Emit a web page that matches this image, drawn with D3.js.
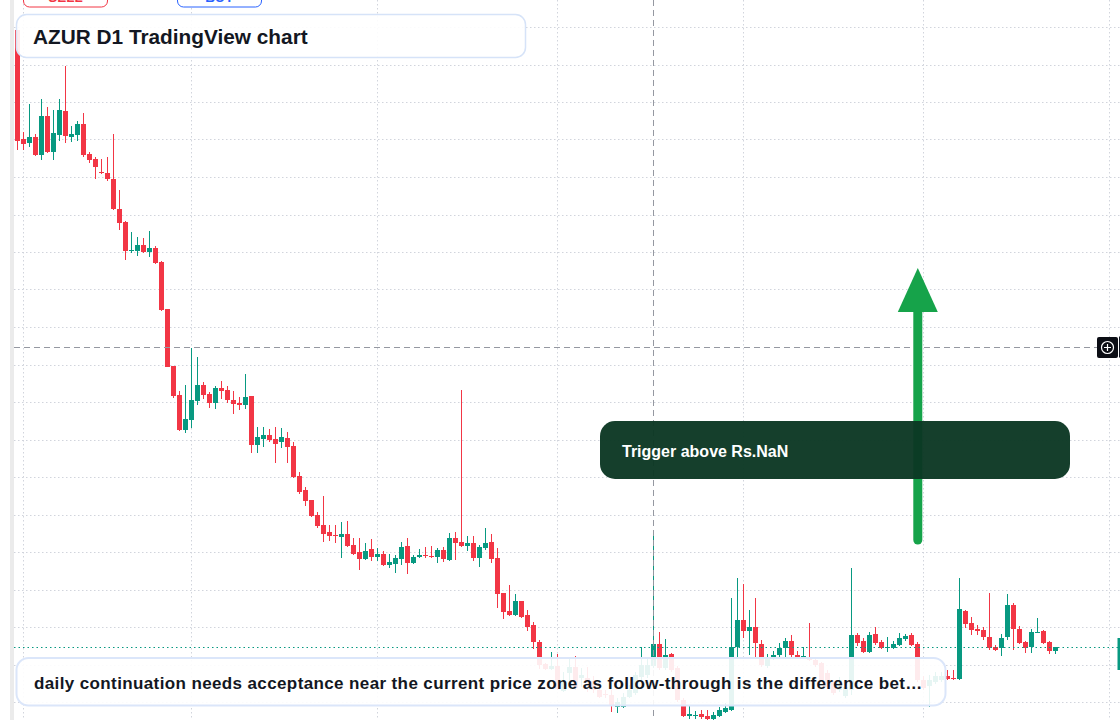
<!DOCTYPE html>
<html>
<head>
<meta charset="utf-8">
<script src="https://cdn.jsdelivr.net/npm/d3@7"></script>
<style>
html, body { margin:0; padding:0; background:#fff; overflow:hidden; }
#chart { width:1120px; height:720px; }
text { font-family: "Liberation Sans", Arial, Helvetica, sans-serif; }
</style>
</head>
<body>
<div id="chart"></div>
<script>
// daily candles, first bar 2025-01-31
var opens = [
14.94,12.76,12.69,12.80,12.44,13.22,12.51,12.85,13.32,12.81,
12.85,13.06,12.46,12.36,12.10,12.08,11.96,11.36,11.10,10.52,
10.53,10.64,10.51,10.58,10.30,9.36,8.22,7.64,6.94,7.14,
7.52,7.84,7.66,7.48,7.78,7.74,7.54,7.48,7.44,7.62,
6.64,6.76,6.84,6.76,6.70,6.78,6.62,6.02,5.74,5.54,
5.24,5.04,4.90,4.84,4.80,4.86,4.64,4.50,4.36,4.56,
4.40,4.46,4.24,4.26,4.36,4.62,4.28,4.40,4.44,4.43,
4.40,4.54,4.34,4.78,4.70,4.62,4.68,4.38,4.58,4.70,
4.38,3.68,3.32,3.24,3.52,3.24,3.04,2.70,2.26,2.16,
2.22,1.72,2.08,2.20,1.98,1.98,1.92,1.74,1.66,1.64,
1.40,1.40,1.60,1.68,2.00,2.04,2.22,2.66,2.18,2.46,
2.18,1.54,1.22,1.22,1.26,1.22,1.16,1.22,1.30,1.34,
2.60,3.14,2.92,3.00,2.66,2.22,2.40,2.44,2.58,2.72,
2.44,2.40,2.40,2.34,2.28,2.08,1.90,1.74,1.62,1.74,
2.84,2.72,2.50,2.86,2.70,2.58,2.58,2.64,2.76,2.84,
2.66,1.94,1.82,1.90,1.94,2.02,1.98,1.96,3.32,3.08,
2.96,2.94,2.80,2.60,2.58,2.80,3.44,2.96,2.70,2.60,
2.89,2.92,2.70,2.52]
var highs = [
14.94,12.90,13.46,12.86,13.56,13.40,13.34,13.56,14.22,13.02,
13.12,13.28,12.50,12.40,12.36,12.40,12.87,11.74,11.12,10.90,
10.80,10.78,10.92,10.62,10.32,9.36,8.22,7.72,7.84,8.59,
8.41,7.90,7.70,7.82,7.92,7.82,7.72,7.60,8.06,7.62,
7.00,7.00,6.96,7.00,6.98,6.90,6.70,6.10,5.80,5.55,
5.30,5.62,5.04,5.04,5.10,5.12,4.78,4.78,4.68,4.76,
4.58,4.52,4.46,4.44,4.70,4.78,4.44,4.56,4.60,4.62,
4.58,4.60,4.88,4.90,7.74,4.82,4.82,4.64,4.98,4.86,
4.58,3.68,3.84,3.66,3.53,3.34,3.10,2.74,2.28,2.50,
2.46,2.10,2.38,2.42,2.18,2.20,2.02,1.82,1.74,1.74,
1.58,1.68,1.84,2.10,2.60,2.40,4.94,2.90,2.76,2.48,
2.22,1.58,1.42,1.32,1.34,1.34,1.30,1.40,1.48,3.58,
3.98,3.86,3.34,3.58,2.74,2.46,2.52,2.68,2.78,2.84,
2.52,2.60,3.08,2.38,2.30,2.14,1.94,2.00,1.86,4.18,
2.88,2.78,2.90,3.00,2.74,2.80,2.72,2.88,2.86,2.88,
2.70,2.02,2.04,2.10,2.10,2.14,2.14,3.98,3.34,3.20,
3.04,3.00,3.68,2.64,2.86,3.66,3.48,3.02,2.72,2.96,
3.18,2.94,2.72,2.61]
var lows = [
12.54,12.54,12.61,12.43,12.34,12.49,12.34,12.73,12.69,12.71,
12.73,12.41,12.29,11.97,12.06,11.93,11.34,10.94,10.34,10.49,
10.43,10.49,10.41,10.27,9.32,8.20,7.59,6.93,6.89,6.98,
7.44,7.56,7.38,7.36,7.56,7.48,7.26,7.34,7.36,6.48,
6.48,6.60,6.70,6.28,6.58,6.28,5.99,5.66,5.42,5.21,
4.98,4.70,4.72,4.68,4.38,4.61,4.45,4.14,4.35,4.32,
4.32,4.23,4.18,4.08,4.24,4.06,4.26,4.38,4.38,4.38,
4.28,4.30,4.32,4.34,4.61,4.52,4.32,4.20,4.54,4.28,
3.38,3.16,3.22,3.23,3.19,2.92,2.56,2.16,2.14,2.14,
1.74,1.70,1.90,1.74,1.80,1.70,1.68,1.58,1.58,1.30,
1.28,1.38,1.58,1.64,1.94,1.98,2.18,2.14,2.14,2.10,
1.50,1.20,1.16,1.16,1.16,1.14,1.14,1.20,1.28,1.32,
2.40,2.78,2.44,2.40,2.20,2.18,2.34,2.40,2.40,2.40,
2.36,2.36,2.32,2.20,1.90,1.76,1.64,1.70,1.58,1.64,
2.62,2.48,2.48,2.64,2.56,2.50,2.56,2.62,2.72,2.62,
1.90,1.74,1.40,1.86,1.90,1.94,1.94,1.94,2.98,2.84,
2.84,2.74,2.54,2.52,2.42,2.74,2.54,2.67,2.48,2.48,
2.88,2.66,2.46,2.46]
var closes = [
12.72,12.67,12.80,12.44,13.22,12.50,12.88,13.34,12.83,12.86,
13.06,12.44,12.34,12.21,12.09,11.96,11.36,11.09,10.53,10.54,
10.64,10.51,10.58,10.29,9.34,8.21,7.63,6.94,7.16,7.54,
7.84,7.64,7.48,7.78,7.72,7.54,7.46,7.44,7.60,6.64,
6.80,6.84,6.74,6.66,6.80,6.60,6.00,5.70,5.52,5.22,
5.02,4.86,4.82,4.83,4.86,4.62,4.46,4.36,4.52,4.40,
4.46,4.24,4.30,4.38,4.60,4.28,4.40,4.44,4.43,4.42,
4.54,4.36,4.78,4.68,4.62,4.68,4.38,4.60,4.68,4.36,
3.66,3.30,3.24,3.52,3.20,3.00,2.70,2.24,2.16,2.22,
1.76,1.90,2.20,1.78,2.04,1.92,1.74,1.60,1.64,1.42,
1.50,1.60,1.74,2.04,2.24,2.24,2.66,2.18,2.44,2.14,
1.54,1.22,1.26,1.24,1.20,1.16,1.24,1.34,1.38,2.60,
3.14,2.92,3.00,2.68,2.24,2.38,2.44,2.58,2.72,2.44,
2.40,2.42,2.34,2.24,1.94,1.80,1.68,1.94,1.80,2.84,
2.68,2.50,2.84,2.68,2.58,2.61,2.66,2.78,2.82,2.64,
1.94,1.78,1.94,2.02,2.02,1.96,1.97,3.36,3.06,2.94,
2.92,2.80,2.58,2.54,2.78,3.44,2.96,2.68,2.58,2.90,
2.90,2.68,2.52,2.60]

var firstDay = new Date(Date.UTC(2025, 0, 31))
var lastDay = new Date(Date.UTC(2025, 7, 1))
var gridPrices = [1.5, 2.25, 3, 3.75, 4.5, 5.25, 6, 6.75, 7.5, 8.25, 9, 9.75, 10.5, 11.25, 12, 12.75, 13.5, 14.25, 15]

var crosshairDay = new Date(Date.UTC(2025, 4, 17))
var crosshairPrice = 8.61
var arrowDay = new Date(Date.UTC(2025, 5, 30))
var arrowFrom = 4.74
var arrowTo = 10.18

var titleText = "AZUR D1 TradingView chart"
var calloutText = "Trigger above Rs.NaN"
var noteText = "daily continuation needs acceptance near the current price zone as follow-through is the difference bet\u2026"

var upColor = "#089981"
var downColor = "#f23645"

var candles = opens.map(function(o, i) {
	return { date: d3.utcDay.offset(firstDay, i), open: o, high: highs[i], low: lows[i], close: closes[i] }
})

var svg = d3.select("#chart").append("svg").attr("width", 1120).attr("height", 720)

var x = d3.scaleUtc().domain([firstDay, lastDay]).range([17.3, 1109.3])
var y = d3.scaleLinear().domain([1.5, 15]).range([702, 27])

function px(v) { return Math.round(v) + 0.5 }

// left pane border
svg.append("rect").attr("x", 10).attr("y", 0).attr("width", 4).attr("height", 720).attr("fill", "#ebebeb")

// grid
var grid = svg.append("g").attr("stroke", "#d1d4dc").attr("stroke-dasharray", "1.5,2.5")
grid.selectAll("line.h").data(gridPrices).enter().append("line")
	.attr("class", "h")
	.attr("x1", 14).attr("x2", 1120)
	.attr("y1", function(d) { return px(y(d)) })
	.attr("y2", function(d) { return px(y(d)) })
grid.selectAll("line.v").data(x.ticks(d3.utcMonth.every(1))).enter().append("line")
	.attr("class", "v")
	.attr("y1", 0).attr("y2", 720)
	.attr("x1", function(d) { return px(x(d)) })
	.attr("x2", function(d) { return px(x(d)) })

// candles
var candleG = svg.append("g").attr("shape-rendering", "crispEdges")
var c = candleG.selectAll("g").data(candles).enter().append("g")
	.attr("fill", function(d) { return d.close >= d.open ? upColor : downColor })
c.append("rect")
	.attr("x", function(d) { return Math.round(x(d.date)) })
	.attr("width", 1)
	.attr("y", function(d) { return y(d.high) })
	.attr("height", function(d) { return Math.max(1, y(d.low) - y(d.high)) })
c.append("rect")
	.attr("x", function(d) { return Math.round(x(d.date)) - 2 })
	.attr("width", 5)
	.attr("y", function(d) { return y(Math.max(d.open, d.close)) })
	.attr("height", function(d) { return Math.max(1, Math.abs(y(d.open) - y(d.close))) })

// last price line
var last = candles[candles.length - 1]
svg.append("line")
	.attr("x1", 14).attr("x2", 1118)
	.attr("y1", px(y(last.close))).attr("y2", px(y(last.close)))
	.attr("stroke", last.close >= last.open ? upColor : downColor)
	.attr("stroke-width", 1.2)
	.attr("stroke-dasharray", "1.5,3")

// crosshair
var cross = svg.append("g").attr("stroke", "#9598a1").attr("stroke-dasharray", "6,4")
cross.append("line")
	.attr("x1", px(x(crosshairDay))).attr("x2", px(x(crosshairDay)))
	.attr("y1", 0).attr("y2", 720)
cross.append("line")
	.attr("x1", 14).attr("x2", 1097)
	.attr("y1", px(y(crosshairPrice))).attr("y2", px(y(crosshairPrice)))

// trigger arrow
var ax = x(arrowDay) + 0.5
var tipY = y(arrowTo)
svg.append("line")
	.attr("x1", ax).attr("x2", ax)
	.attr("y1", y(arrowFrom)).attr("y2", tipY + 40)
	.attr("stroke", "#16a34a").attr("stroke-width", 9).attr("stroke-linecap", "round")
svg.append("path")
	.attr("d", "M" + ax + "," + tipY + "L" + (ax - 20) + "," + (tipY + 44) + "L" + (ax + 20) + "," + (tipY + 44) + "Z")
	.attr("fill", "#16a34a")

// callout
svg.append("rect")
	.attr("x", 600).attr("y", 421).attr("width", 470).attr("height", 58).attr("rx", 15)
	.attr("fill", "#0b3723").attr("fill-opacity", 0.96)
svg.append("text")
	.attr("x", 622).attr("y", 457)
	.attr("fill", "#fff").attr("font-size", 16).attr("font-weight", "bold")
	.text(calloutText)

// title box
svg.append("rect")
	.attr("x", 16.5).attr("y", 14.5).attr("width", 509).attr("height", 43).attr("rx", 10)
	.attr("fill", "#fff").attr("fill-opacity", 0.9)
	.attr("stroke", "#d6e3f8").attr("stroke-width", 1.5)
svg.append("text")
	.attr("x", 33).attr("y", 43.5)
	.attr("fill", "#131722").attr("font-size", 20.8).attr("font-weight", "bold")
	.text(titleText)

// note box
svg.append("rect")
	.attr("x", 16.5).attr("y", 658).attr("width", 929).attr("height", 47.5).attr("rx", 12)
	.attr("fill", "#fff").attr("fill-opacity", 0.9)
	.attr("stroke", "#dbe6fa").attr("stroke-width", 2)
svg.append("text")
	.attr("x", 34).attr("y", 688.5)
	.attr("fill", "#131722").attr("font-size", 17).attr("font-weight", "bold")
	.attr("letter-spacing", "0.38px")
	.text(noteText)

// order buttons cut at the top
var buttons = [
	{ label: "SELL", x: 23.5, color: downColor },
	{ label: "BUY", x: 177.5, color: "#2962ff" }
]
var b = svg.selectAll("g.btn").data(buttons).enter().append("g").attr("class", "btn")
b.append("rect")
	.attr("x", function(d) { return d.x }).attr("y", -22).attr("width", 84).attr("height", 29).attr("rx", 6)
	.attr("fill", "#fff").attr("stroke", function(d) { return d.color })
b.append("text")
	.attr("x", function(d) { return d.x + 42 }).attr("y", 2)
	.attr("text-anchor", "middle").attr("font-size", 13.5).attr("font-weight", "bold")
	.attr("fill", function(d) { return d.color })
	.text(function(d) { return d.label })

// right edge labels
svg.append("rect").attr("x", 1117.5).attr("y", y(last.close) - 9).attr("width", 3).attr("height", 32).attr("fill", upColor)
svg.append("rect").attr("x", 1119).attr("y", y(crosshairPrice) - 10).attr("width", 2).attr("height", 21).attr("fill", "#131722")
var plus = svg.append("g").attr("transform", "translate(1107.5," + (px(y(crosshairPrice))) + ")")
plus.append("rect").attr("x", -10.5).attr("y", -10.5).attr("width", 21).attr("height", 21).attr("rx", 2).attr("fill", "#0c0e15")
plus.append("circle").attr("r", 6).attr("fill", "none").attr("stroke", "#fff").attr("stroke-width", 1.2)
plus.append("path").attr("d", "M-3.5,0H3.5M0,-3.5V3.5").attr("stroke", "#fff").attr("stroke-width", 1.2)
</script>
</body>
</html>
